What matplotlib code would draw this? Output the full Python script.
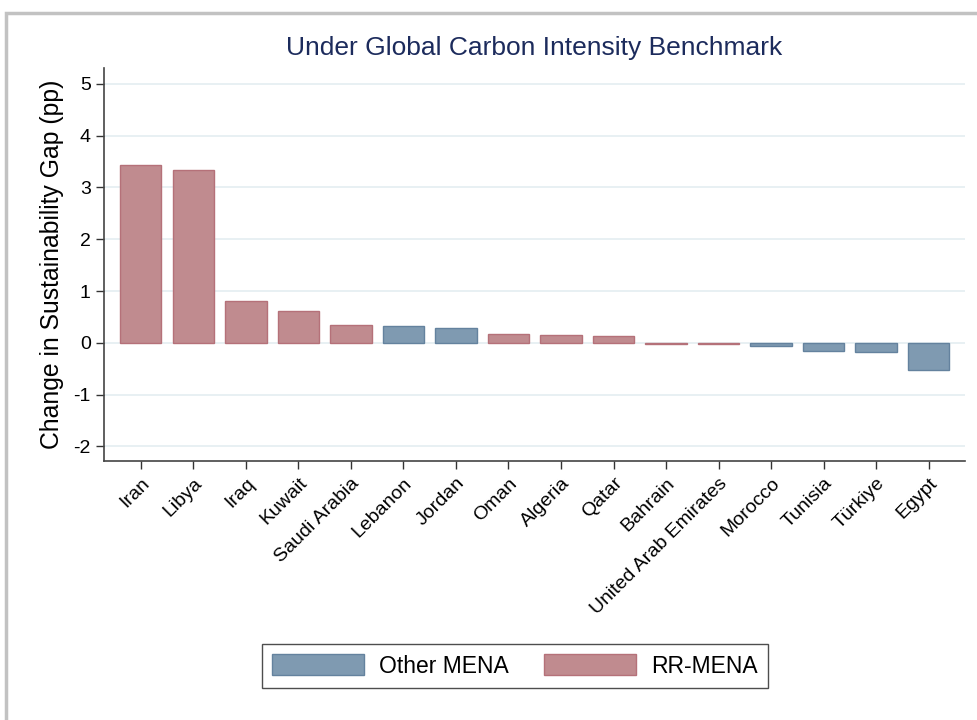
import matplotlib.pyplot as plt
from matplotlib.patches import Patch, Rectangle

plt.rcParams['font.family'] = ['Liberation Sans', 'DejaVu Sans']

# data
countries = ["Iran", "Libya", "Iraq", "Kuwait", "Saudi Arabia", "Lebanon", "Jordan",
             "Oman", "Algeria", "Qatar", "Bahrain", "United Arab Emirates",
             "Morocco", "Tunisia", "Türkiye", "Egypt"]
gap_change = [3.43, 3.33, 0.81, 0.62, 0.35, 0.33, 0.28,
              0.17, 0.15, 0.13, -0.03, -0.03,
              -0.06, -0.15, -0.17, -0.52]
group = ["RR", "RR", "RR", "RR", "RR", "Other", "Other",
         "RR", "RR", "RR", "RR", "RR",
         "Other", "Other", "Other", "Other"]
y_ticks = [-2, -1, 0, 1, 2, 3, 4, 5]

fill = {"RR": "#c08b8f", "Other": "#7f9ab1"}
edge = {"RR": "#b57179", "Other": "#64829e"}

fig = plt.figure(figsize=(9.77, 7.2), dpi=100)
ax = fig.add_axes([0.1064, 0.360, 0.8813, 0.545])

x = range(len(countries))
ax.bar(x, gap_change, width=0.79,
       color=[fill[g] for g in group],
       edgecolor=[edge[g] for g in group], linewidth=1.0, zorder=2)

ax.set_xlim(-0.70, 15.69)
ax.set_ylim(-2.28, 5.30)
ax.set_yticks(y_ticks)
ax.set_yticklabels([str(t) for t in y_ticks])
ax.set_xticks(list(x))
ax.set_xticklabels(countries, rotation=45, ha="right", rotation_mode="anchor")
ax.tick_params(axis="both", direction="out", length=6, width=1, labelsize=14,
               color="#333333")
ax.tick_params(axis="x", pad=4)
ax.grid(axis="y", color="#e6eff2", linewidth=1.3, zorder=0)
ax.set_axisbelow(True)

for side in ["top", "right"]:
    ax.spines[side].set_visible(False)
for side in ["left", "bottom"]:
    ax.spines[side].set_color("#444444")
    ax.spines[side].set_linewidth(1.2)

ax.set_ylabel("Change in Sustainability Gap (pp)", fontsize=17.8, labelpad=7)
ax.set_title("Under Global Carbon Intensity Benchmark", fontsize=19,
             color="#1c2b5c", pad=10)

handles = [Patch(facecolor=fill["Other"], edgecolor=edge["Other"], label="Other MENA"),
           Patch(facecolor=fill["RR"], edgecolor=edge["RR"], label="RR-MENA")]
leg = fig.legend(handles=handles, loc="center", bbox_to_anchor=(0.527, 0.075),
                 ncol=2, fontsize=16.5, frameon=True, fancybox=False,
                 handlelength=4.0, handleheight=1.0, handletextpad=0.65,
                 columnspacing=1.55, borderpad=0.45)
leg.get_frame().set_edgecolor("#222222")
leg.get_frame().set_linewidth(1.0)

# light grey frame around the graph region
fig.patches.append(Rectangle((6 / 977, -0.1), 1.2, 1.09 - 7 / 720 + 0.001,
                             transform=fig.transFigure, fill=False,
                             edgecolor="#c2c2c2", linewidth=2.5))

fig.savefig("out.png", dpi=100)
